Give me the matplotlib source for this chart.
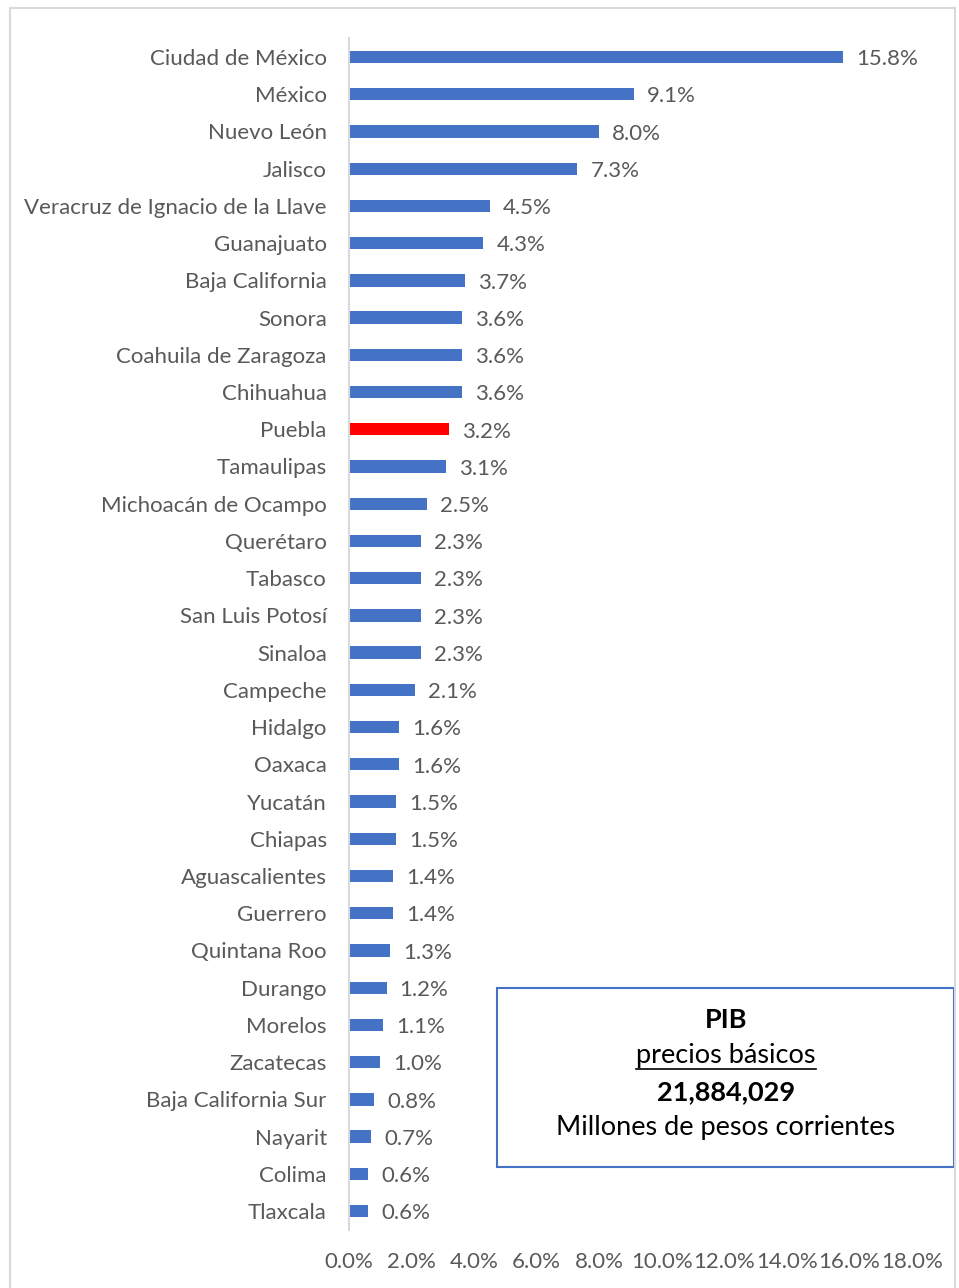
import matplotlib.pyplot as plt
from matplotlib.patches import Rectangle
from matplotlib.lines import Line2D

# participación estatal en el PIB (%)
estados = ['Ciudad de México', 'México', 'Nuevo León', 'Jalisco',
           'Veracruz de Ignacio de la Llave', 'Guanajuato', 'Baja California',
           'Sonora', 'Coahuila de Zaragoza', 'Chihuahua', 'Puebla', 'Tamaulipas',
           'Michoacán de Ocampo', 'Querétaro', 'Tabasco', 'San Luis Potosí',
           'Sinaloa', 'Campeche', 'Hidalgo', 'Oaxaca', 'Yucatán', 'Chiapas',
           'Aguascalientes', 'Guerrero', 'Quintana Roo', 'Durango', 'Morelos',
           'Zacatecas', 'Baja California Sur', 'Nayarit', 'Colima', 'Tlaxcala']
participacion = [15.8, 9.1, 8.0, 7.3, 4.5, 4.3, 3.7, 3.6, 3.6, 3.6, 3.2, 3.1,
                 2.5, 2.3, 2.3, 2.3, 2.3, 2.1, 1.6, 1.6, 1.5, 1.5, 1.4, 1.4,
                 1.3, 1.2, 1.1, 1.0, 0.8, 0.7, 0.6, 0.6]
destacado = 'Puebla'
ticks = [0, 2, 4, 6, 8, 10, 12, 14, 16, 18]

plt.rcParams['font.family'] = ['Lato', 'DejaVu Sans']
gris = '#595959'
azul = '#4472C4'

fig = plt.figure(figsize=(9.59, 12.88), dpi=100)
ax = fig.add_axes([0.3639, 0.0453, 0.5871, 0.9249])

colores = ['#FF0000' if e == destacado else azul for e in estados]
pos = list(range(len(estados)))
ax.barh(pos, participacion, height=0.33, color=colores)
for y, v in zip(pos, participacion):
    ax.text(v + 0.42, y + 0.06, f'{v:.1f}%', va='center', ha='left',
            fontsize=16, color=gris)

ax.set_ylim(len(estados) - 0.5, -0.5)
ax.set_xlim(0, 18)
ax.set_yticks(pos)
ax.set_yticklabels(estados, fontsize=16, color=gris)
ax.set_xticks(ticks)
ax.set_xticklabels([f'{t:.1f}%' for t in ticks], fontsize=16, color=gris)
ax.tick_params(axis='y', length=0, pad=16)
ax.tick_params(axis='x', length=0, pad=16)
for s in ['top', 'right', 'bottom']:
    ax.spines[s].set_visible(False)
ax.spines['left'].set_color('#D9D9D9')
ax.spines['left'].set_linewidth(1.5)

# recuadro con el total
caja = Rectangle((497 / 959, 1 - 1167 / 1288), 457 / 959, 179 / 1288,
                 transform=fig.transFigure, fill=False, edgecolor=azul, linewidth=1.5)
fig.add_artist(caja)
cx = 726 / 959
fig.text(cx, 1 - 1020 / 1288, 'PIB', ha='center', va='center', fontsize=19.5,
         fontweight='bold', color='black')
sub = fig.text(cx, 1 - 1056 / 1288, 'precios básicos', ha='center', va='center',
               fontsize=19.5, color='black')
fig.text(cx, 1 - 1092 / 1288, '21,884,029', ha='center', va='center', fontsize=19.5,
         fontweight='bold', color='black')
fig.text(cx, 1 - 1128 / 1288, 'Millones de pesos corrientes', ha='center',
         va='center', fontsize=19.5, color='black')

# subrayado
fig.canvas.draw()
bb = sub.get_window_extent()
yl = 1 - 1069 / 1288
fig.add_artist(Line2D([bb.x0 / 959, bb.x1 / 959], [yl, yl],
                      transform=fig.transFigure, color='black', linewidth=1.2))

# marco del gráfico
fig.add_artist(Rectangle((10 / 959, -0.01), 945 / 959, 1.01 - 8 / 1288,
                         transform=fig.transFigure, fill=False,
                         edgecolor='#D9D9D9', linewidth=1.5))

fig.savefig('out.png', dpi=100)
